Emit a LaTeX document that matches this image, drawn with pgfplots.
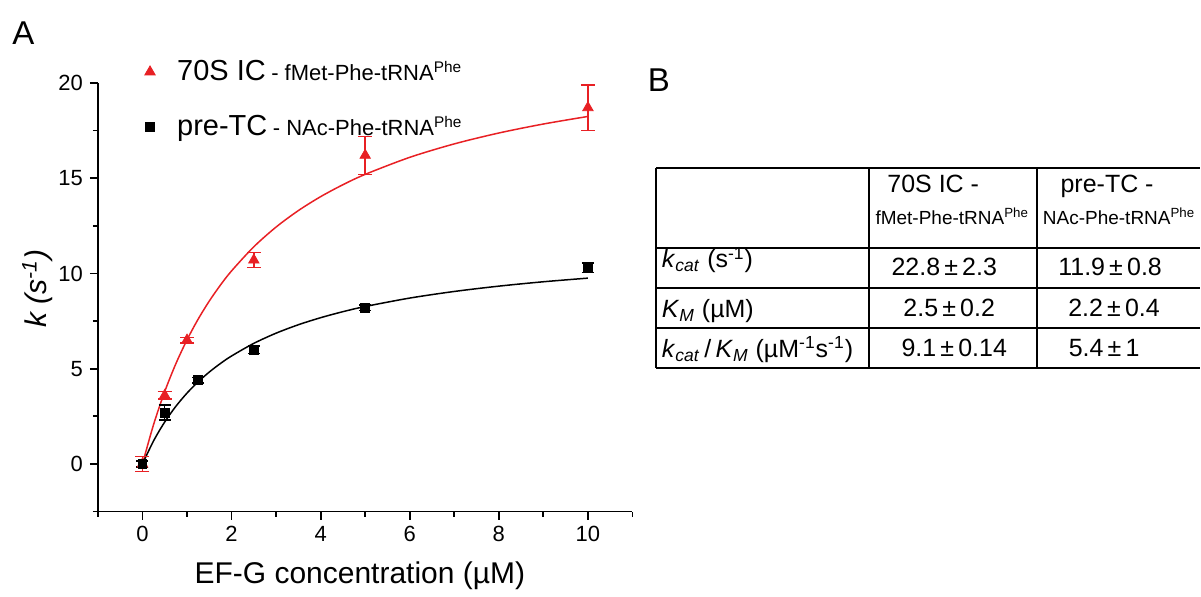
\documentclass[border=0pt]{standalone}
\usepackage{pgfplots}
\pgfplotsset{compat=1.18}
\usepackage{pgfplotstable}
\usepackage{fontspec}
\setmainfont{Liberation Sans}
\definecolor{myred}{RGB}{232,32,36}

\pgfplotstableread{
x y e
0 0 0.4
0.5 3.6 0.2
1 6.5 0.15
2.5 10.7 0.4
5 16.2 1.0
10 18.7 1.2
}\redpts
\pgfplotstableread{
x y e
0 0 0.15
0.5 2.7 0.4
1.25 4.4 0.15
2.5 6.0 0.2
5 8.2 0.15
10 10.3 0.25
}\blackpts
\pgfplotstableread{
x y
0 0
0.25 2.073
0.5 3.8
0.75 5.262
1 6.514
1.25 7.6
1.5 8.55
1.75 9.388
2 10.133
2.5 11.4
3 12.436
3.5 13.3
4 14.031
4.5 14.657
5 15.2
6 16.094
7 16.8
8 17.371
9 17.843
10 18.24
}\redfit
\pgfplotstableread{
x y
0 0
0.25 1.214
0.5 2.204
0.75 3.025
1 3.719
1.25 4.312
1.5 4.824
1.75 5.272
2 5.667
2.5 6.33
3 6.865
3.5 7.307
4 7.677
4.5 7.993
5 8.264
6 8.707
7 9.054
8 9.333
9 9.563
10 9.754
}\blackfit

\begin{document}
\begin{tikzpicture}[x=0.5pt,y=0.5pt]
\path (0,0) rectangle (1201,592);
\begin{axis}[
  at={(49pt,40pt)}, anchor=south west,
  scale only axis, width=267.5pt, height=214.5pt,
  xmin=-1, xmax=11, ymin=-2.5, ymax=20,
  axis x line*=bottom, axis y line*=left,
  axis line style={-, line width=0.9pt},
  xtick={0,2,...,10}, ytick={0,5,...,20},
  minor xtick={-1,1,3,5,7,9,11}, minor ytick={-2.5,2.5,7.5,12.5,17.5},
  tick align=outside, major tick length=4pt, minor tick length=2.5pt,
  tick style={black, line width=0.9pt},
  ticklabel style={font=\fontsize{11}{12}\selectfont},
  /pgf/number format/assume math mode=true,
  xlabel={EF-G concentration (µM)},
  xlabel style={font=\fontsize{15}{17}\selectfont, at={([yshift=-36pt]axis description cs:0.49,0)}, anchor=base},
  ylabel={\textit{k (s\textsuperscript{-1})}},
  ylabel style={font=\fontsize{15}{17}\selectfont, rotate=0, at={([xshift=-25.5pt]axis description cs:0,0.52)}, anchor=base},
  clip=false,
  legend style={at={(rel axis cs:0.087,1.063)}, anchor=north west, draw=none, fill=none, row sep=12pt, inner sep=0pt,
    /tikz/every odd column/.append style={column sep=9pt}},
  legend cell align=left,
]
\addplot[myred, line width=0.75pt, smooth, forget plot] table[x=x,y=y] {\redfit};
\addplot[black, line width=0.75pt, smooth, forget plot] table[x=x,y=y] {\blackfit};
\addplot[only marks, mark=triangle*, mark size=3pt, color=myred,
  error bars/.cd, y dir=both, y explicit,
  error bar style={line width=0.75pt, myred},
  error mark options={rotate=90, mark size=3.5pt, line width=0.75pt, myred}]
  table[x=x, y=y, y error=e] {\redpts};
\addlegendentry{{\fontsize{14.5}{16}\selectfont 70S IC} {\fontsize{11}{12}\selectfont - fMet-Phe-tRNA\textsuperscript{Phe}}}
\addplot[only marks, mark=square*, mark size=2.2pt, color=black,
  error bars/.cd, y dir=both, y explicit,
  error bar style={line width=0.75pt, black},
  error mark options={rotate=90, mark size=3pt, line width=0.75pt, black}]
  table[x=x, y=y, y error=e] {\blackpts};
\addlegendentry{{\fontsize{14.5}{16}\selectfont pre-TC} {\fontsize{11}{12}\selectfont - NAc-Phe-tRNA\textsuperscript{Phe}}}
\end{axis}

% panel labels
\node[anchor=base west, inner sep=0pt, font=\fontsize{16.5}{18}\selectfont] at (12,547) {A};
\node[anchor=base west, inner sep=0pt, font=\fontsize{16.5}{18}\selectfont] at (648,500) {B};

% table
\begin{scope}[line width=1pt]
\draw (657,424) -- (1201,424);
\draw (657,344) -- (1201,344);
\draw (657,304) -- (1201,304);
\draw (657,264) -- (1201,264);
\draw (657,224) -- (1201,224);
\draw (657,424) -- (657,224);
\draw (870,424) -- (870,224);
\draw (1038,424) -- (1038,224);
\end{scope}
\begin{scope}[every node/.style={inner sep=0pt, anchor=base}]
\node[font=\fontsize{12.5}{14}\selectfont] at (934,399) {70S IC -};
\node[font=\fontsize{9.5}{11}\selectfont] at (953,367) {fMet-Phe-tRNA\textsuperscript{Phe}};
\node[font=\fontsize{12.5}{14}\selectfont] at (1108,399) {pre-TC -};
\node[font=\fontsize{9.5}{11}\selectfont] at (1120,367) {NAc-Phe-tRNA\textsuperscript{Phe}};
\node[font=\fontsize{12.5}{14}\selectfont] at (945,316) {22.8\,±\,2.3};
\node[font=\fontsize{12.5}{14}\selectfont] at (1111,316) {11.9\,±\,0.8};
\node[font=\fontsize{12.5}{14}\selectfont] at (950,275) {2.5\,±\,0.2};
\node[font=\fontsize{12.5}{14}\selectfont] at (1115,275) {2.2\,±\,0.4};
\node[font=\fontsize{12.5}{14}\selectfont] at (955,235) {9.1\,±\,0.14};
\node[font=\fontsize{12.5}{14}\selectfont] at (1105,235) {5.4\,±\,1};
\end{scope}
\begin{scope}[every node/.style={inner sep=0pt, anchor=base west, font=\fontsize{12.5}{14}\selectfont}]
\node at (662,324) {\textit{k}\textsubscript{\textit{cat}} (s\textsuperscript{-1})};
\node at (662,274) {\textit{K}\textsubscript{\textit{M}} (µM)};
\node at (662,234) {\textit{k}\textsubscript{\textit{cat}}\,/\,\textit{K}\textsubscript{\textit{M}} (µM\textsuperscript{-1}s\textsuperscript{-1})};
\end{scope}
\end{tikzpicture}
\end{document}
